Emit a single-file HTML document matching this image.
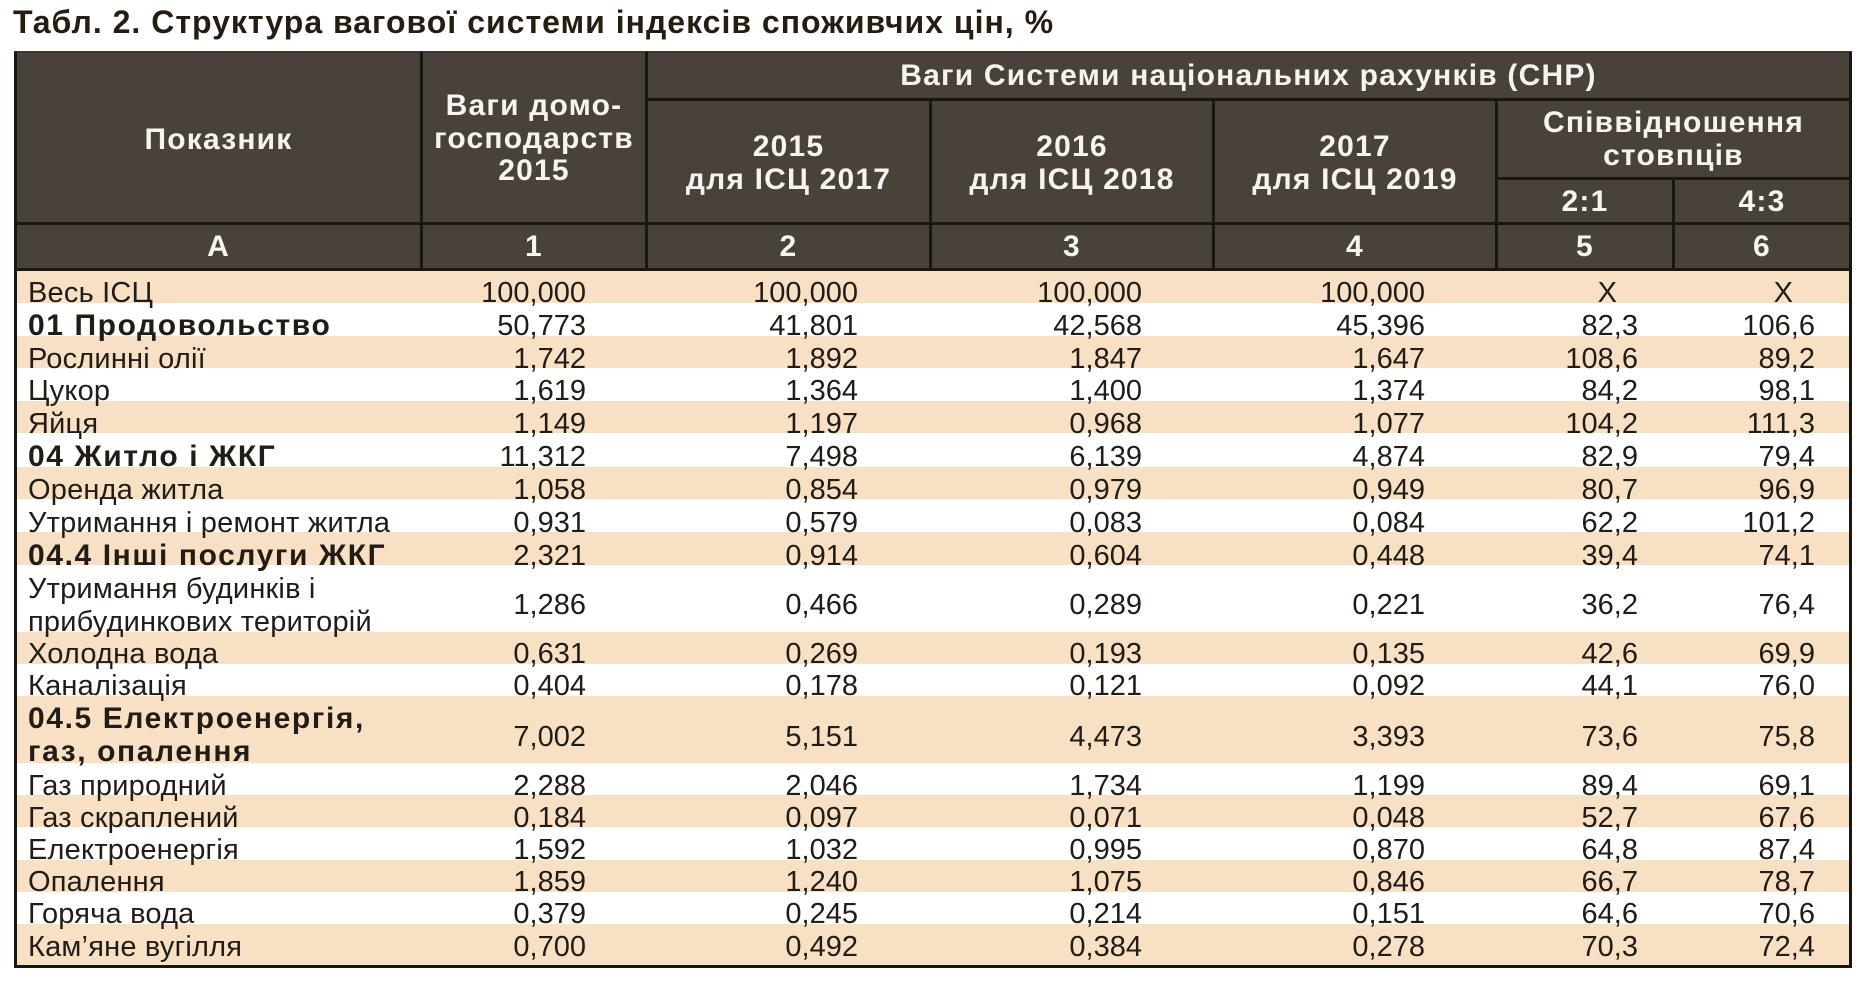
<!DOCTYPE html>
<html><head><meta charset="utf-8">
<style>
html,body{margin:0;padding:0;background:#fff;}
#c{position:relative;width:1864px;height:982px;overflow:hidden;background:#fff;font-family:"Liberation Sans","Noto Sans CJK SC",sans-serif;}
.ti{position:absolute;left:13px;top:6px;font-size:32px;line-height:1;font-weight:bold;color:#261d12;letter-spacing:1px;white-space:nowrap;}
.hb{position:absolute;background:#48423b;}
.ln{position:absolute;background:#1b1610;}
.h{position:absolute;color:#f7f4ef;font-weight:bold;font-size:30px;line-height:1;text-align:center;letter-spacing:1.2px;white-space:nowrap;}
.r{position:absolute;left:15px;width:1836px;}
.p{background:#f8e0c4;}
.w{background:#fff;}
.r div{position:absolute;z-index:1;font-size:29px;line-height:1;color:#211c16;white-space:nowrap;bottom:-5.5px;}
.r .l{left:13px;letter-spacing:0.2px;}
.r .b{font-weight:bold;font-size:30px;letter-spacing:1.6px;}
.r .c1{right:1265px;}
.r .c2{right:993px;}
.r .c3{right:709px;}
.r .c4{right:426px;}
.r .c5{right:213px;}
.r .c6{right:36px;}
.r .x5{right:234px;}
.r .x6{right:58px;}
</style></head>
<body><div id="c">
<div class="ti">Табл. 2. Структура вагової системи індексів споживчих цін, %</div>

<div class="hb" style="left:14px;top:51px;width:1838px;height:219px;"></div>

<div class="ln" style="left:14px;top:51px;width:1838px;height:2px;background:#3a352f;"></div>
<div class="ln" style="left:645px;top:98px;width:1206px;height:3px;"></div>
<div class="ln" style="left:1495px;top:177px;width:356px;height:3px;"></div>
<div class="ln" style="left:14px;top:222px;width:1838px;height:3px;"></div>
<div class="ln" style="left:14px;top:267.5px;width:1838px;height:3px;"></div>
<div class="ln" style="left:420px;top:52px;width:3px;height:218px;"></div>
<div class="ln" style="left:645px;top:52px;width:3px;height:218px;"></div>
<div class="ln" style="left:929px;top:99px;width:3px;height:171px;"></div>
<div class="ln" style="left:1212px;top:99px;width:3px;height:171px;"></div>
<div class="ln" style="left:1495px;top:99px;width:3px;height:171px;"></div>
<div class="ln" style="left:1672px;top:178px;width:3px;height:92px;"></div>

<div class="h" style="left:17px;width:403px;top:124.6px;">Показник</div>
<div class="h" style="left:423px;width:222px;top:91.3px;">Ваги домо-</div>
<div class="h" style="left:423px;width:222px;top:123.6px;">господарств</div>
<div class="h" style="left:423px;width:222px;top:156.3px;">2015</div>
<div class="h" style="left:648px;width:1201px;top:61.1px;">Ваги Системи національних рахунків (СНР)</div>
<div class="h" style="left:648px;width:281px;top:131.6px;">2015</div>
<div class="h" style="left:648px;width:281px;top:164.6px;">для ІСЦ 2017</div>
<div class="h" style="left:932px;width:280px;top:131.6px;">2016</div>
<div class="h" style="left:932px;width:280px;top:164.6px;">для ІСЦ 2018</div>
<div class="h" style="left:1215px;width:280px;top:131.6px;">2017</div>
<div class="h" style="left:1215px;width:280px;top:164.6px;">для ІСЦ 2019</div>
<div class="h" style="left:1498px;width:351px;top:107.6px;">Співвідношення</div>
<div class="h" style="left:1498px;width:351px;top:140.6px;">стовпців</div>
<div class="h" style="left:1498px;width:174px;top:186.6px;">2:1</div>
<div class="h" style="left:1675px;width:174px;top:186.6px;">4:3</div>
<div class="h" style="left:17px;width:403px;top:232.1px;">А</div>
<div class="h" style="left:423px;width:222px;top:232.1px;">1</div>
<div class="h" style="left:648px;width:281px;top:232.1px;">2</div>
<div class="h" style="left:932px;width:280px;top:232.1px;">3</div>
<div class="h" style="left:1215px;width:280px;top:232.1px;">4</div>
<div class="h" style="left:1498px;width:174px;top:232.1px;">5</div>
<div class="h" style="left:1675px;width:174px;top:232.1px;">6</div>

<div class="r p" style="top:270.5px;height:32.2px;">
<div class="l">Весь ІСЦ</div><div class="c1">100,000</div><div class="c2">100,000</div><div class="c3">100,000</div><div class="c4">100,000</div><div class="x5">X</div><div class="x6">X</div></div>

<div class="r w" style="top:302.7px;height:33.3px;">
<div class="l b">01 Продовольство</div><div class="c1">50,773</div><div class="c2">41,801</div><div class="c3">42,568</div><div class="c4">45,396</div><div class="c5">82,3</div><div class="c6">106,6</div></div>

<div class="r p" style="top:336px;height:32.3px;">
<div class="l">Рослинні олії</div><div class="c1">1,742</div><div class="c2">1,892</div><div class="c3">1,847</div><div class="c4">1,647</div><div class="c5">108,6</div><div class="c6">89,2</div></div>

<div class="r w" style="top:368.3px;height:32.4px;">
<div class="l">Цукор</div><div class="c1">1,619</div><div class="c2">1,364</div><div class="c3">1,400</div><div class="c4">1,374</div><div class="c5">84,2</div><div class="c6">98,1</div></div>

<div class="r p" style="top:400.7px;height:32.6px;">
<div class="l">Яйця</div><div class="c1">1,149</div><div class="c2">1,197</div><div class="c3">0,968</div><div class="c4">1,077</div><div class="c5">104,2</div><div class="c6">111,3</div></div>

<div class="r w" style="top:433.3px;height:33.2px;">
<div class="l b">04 Житло і ЖКГ</div><div class="c1">11,312</div><div class="c2">7,498</div><div class="c3">6,139</div><div class="c4">4,874</div><div class="c5">82,9</div><div class="c6">79,4</div></div>

<div class="r p" style="top:466.5px;height:32.5px;">
<div class="l">Оренда житла</div><div class="c1">1,058</div><div class="c2">0,854</div><div class="c3">0,979</div><div class="c4">0,949</div><div class="c5">80,7</div><div class="c6">96,9</div></div>

<div class="r w" style="top:499px;height:33px;">
<div class="l">Утримання і ремонт житла</div><div class="c1">0,931</div><div class="c2">0,579</div><div class="c3">0,083</div><div class="c4">0,084</div><div class="c5">62,2</div><div class="c6">101,2</div></div>

<div class="r p" style="top:532px;height:33px;">
<div class="l b">04.4 Інші послуги ЖКГ</div><div class="c1">2,321</div><div class="c2">0,914</div><div class="c3">0,604</div><div class="c4">0,448</div><div class="c5">39,4</div><div class="c6">74,1</div></div>

<div class="r w" style="top:565px;height:66.5px;">
<div class="l" style="bottom:27.8px;">Утримання будинків і</div>
<div class="l">прибудинкових територій</div>
<div class="c1" style="bottom:11.6px;">1,286</div><div class="c2" style="bottom:11.6px;">0,466</div><div class="c3" style="bottom:11.6px;">0,289</div><div class="c4" style="bottom:11.6px;">0,221</div><div class="c5" style="bottom:11.6px;">36,2</div><div class="c6" style="bottom:11.6px;">76,4</div></div>

<div class="r p" style="top:631.5px;height:32.3px;">
<div class="l">Холодна вода</div><div class="c1">0,631</div><div class="c2">0,269</div><div class="c3">0,193</div><div class="c4">0,135</div><div class="c5">42,6</div><div class="c6">69,9</div></div>

<div class="r w" style="top:663.8px;height:32.2px;">
<div class="l">Каналізація</div><div class="c1">0,404</div><div class="c2">0,178</div><div class="c3">0,121</div><div class="c4">0,092</div><div class="c5">44,1</div><div class="c6">76,0</div></div>

<div class="r p" style="top:696px;height:66.5px;">
<div class="l b" style="bottom:28.5px;">04.5 Електроенергія,</div>
<div class="l b" style="bottom:-4.5px;">газ, опалення</div>
<div class="c1" style="bottom:11px;">7,002</div><div class="c2" style="bottom:11px;">5,151</div><div class="c3" style="bottom:11px;">4,473</div><div class="c4" style="bottom:11px;">3,393</div><div class="c5" style="bottom:11px;">73,6</div><div class="c6" style="bottom:11px;">75,8</div></div>

<div class="r w" style="top:762.5px;height:32.5px;">
<div class="l">Газ природний</div><div class="c1">2,288</div><div class="c2">2,046</div><div class="c3">1,734</div><div class="c4">1,199</div><div class="c5">89,4</div><div class="c6">69,1</div></div>

<div class="r p" style="top:795px;height:32.3px;">
<div class="l">Газ скраплений</div><div class="c1">0,184</div><div class="c2">0,097</div><div class="c3">0,071</div><div class="c4">0,048</div><div class="c5">52,7</div><div class="c6">67,6</div></div>

<div class="r w" style="top:827.3px;height:32.2px;">
<div class="l">Електроенергія</div><div class="c1">1,592</div><div class="c2">1,032</div><div class="c3">0,995</div><div class="c4">0,870</div><div class="c5">64,8</div><div class="c6">87,4</div></div>

<div class="r p" style="top:859.5px;height:32.2px;">
<div class="l">Опалення</div><div class="c1">1,859</div><div class="c2">1,240</div><div class="c3">1,075</div><div class="c4">0,846</div><div class="c5">66,7</div><div class="c6">78,7</div></div>

<div class="r w" style="top:891.7px;height:32.3px;">
<div class="l">Горяча вода</div><div class="c1">0,379</div><div class="c2">0,245</div><div class="c3">0,214</div><div class="c4">0,151</div><div class="c5">64,6</div><div class="c6">70,6</div></div>

<div class="r p" style="top:924px;height:42px;">
<div class="l" style="bottom:3.6px;">Кам’яне вугілля</div><div class="c1" style="bottom:3.6px;">0,700</div><div class="c2" style="bottom:3.6px;">0,492</div><div class="c3" style="bottom:3.6px;">0,384</div><div class="c4" style="bottom:3.6px;">0,278</div><div class="c5" style="bottom:3.6px;">70,3</div><div class="c6" style="bottom:3.6px;">72,4</div></div>

<div class="ln" style="left:14px;top:52px;width:3px;height:916px;"></div>
<div class="ln" style="left:1849px;top:52px;width:3px;height:916px;"></div>
<div class="ln" style="left:14px;top:965px;width:1838px;height:3px;"></div>
</div></body></html>
